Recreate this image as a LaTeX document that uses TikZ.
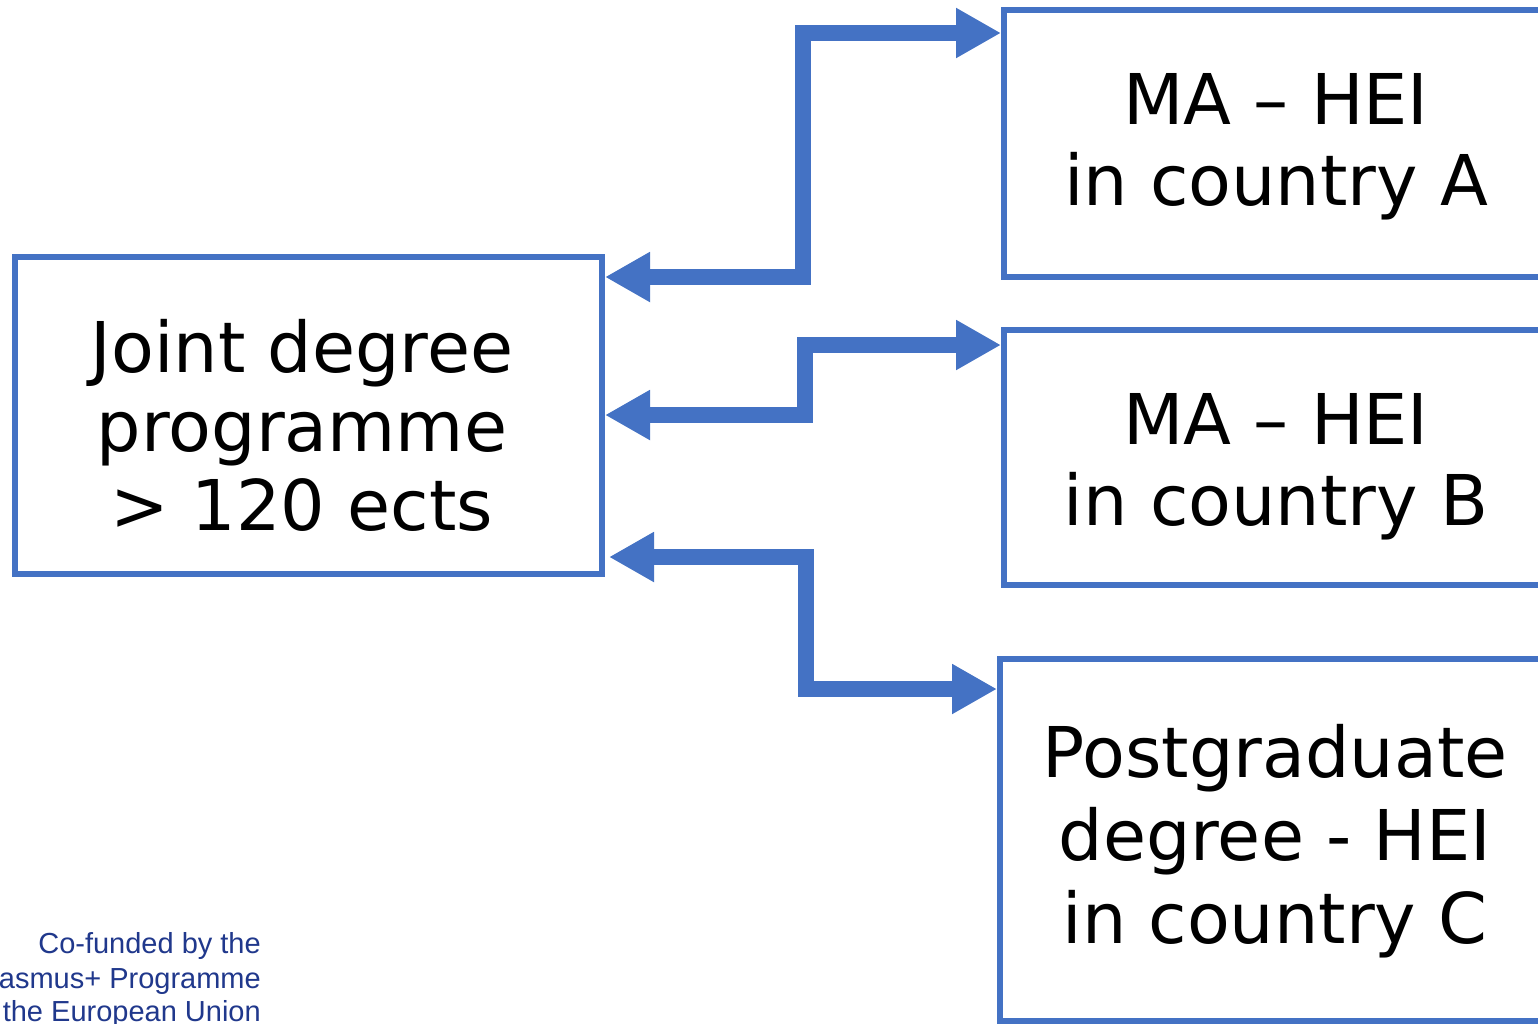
\documentclass[tikz,border=0pt]{standalone}
\usepackage{fontspec}
\setmainfont{DejaVu Sans}
\newfontfamily\logofont{Liberation Sans}
\usetikzlibrary{arrows.meta}
\definecolor{boxblue}{RGB}{68,114,196}
\definecolor{logoblue}{RGB}{32,56,140}
\begin{document}
\begin{tikzpicture}[x=1pt,y=-1pt,
  box/.style={draw=boxblue, line width=6pt, inner sep=0pt, rectangle},
  lbl/.style={anchor=base, inner sep=0pt, font=\fontsize{70}{82}\selectfont},
  link/.style={color=boxblue, line width=16pt, line join=miter,
    {Triangle[length=45pt,width=47pt]}-{Triangle[length=45pt,width=47pt]}},
  logo/.style={anchor=base east, inner sep=0pt, text=logoblue,
    font=\logofont\fontsize{29}{34}\selectfont}]
\fill[white] (0,0) rectangle (1538,1023);
\clip (0,0) rectangle (1538,1023);
% boxes
\node[box, minimum width=587pt, minimum height=317pt] (jdp) at (308.5,415) {};
\node[box, minimum width=556pt, minimum height=266.5pt] (hA) at (1282,143.25) {};
\node[box, minimum width=556pt, minimum height=255.5pt] (hB) at (1282,457.25) {};
\node[box, minimum width=560pt, minimum height=362pt] (hC) at (1280,839.5) {};
% labels
\node[lbl] (jdp1) at (302,372) {Joint degree};
\node[lbl] (jdp2) at (302,451) {programme};
\node[lbl] (jdp3) at (302,530) {> 120 ects};
\node[lbl] (hA1) at (1276,124) {MA – HEI};
\node[lbl] (hA2) at (1276,205) {in country A};
\node[lbl] (hB1) at (1276,444) {MA – HEI};
\node[lbl] (hB2) at (1276,525) {in country B};
\node[lbl] (hC1) at (1275,777) {Postgraduate};
\node[lbl] (hC2) at (1275,860) {degree - HEI};
\node[lbl] (hC3) at (1275,943) {in country C};
% connectors
\coordinate (c3) at ([xshift=4pt]jdp.east);
\draw[link] (jdp.east |- 0,277) -- (803,277) -- (803,33) -- (hA.west |- 0,33);
\draw[link] (jdp.east |- 0,415) -- (805,415) -- (805,345) -- (hB.west |- 0,345);
\draw[link] (c3 |- 0,557) -- (806,557) -- (806,689) -- (hC.west |- 0,689);
% logo text
\node[logo] (lg1) at (261,953) {Co-funded by the};
\node[logo] (lg2) at (261,988) {Erasmus+ Programme};
\node[logo] (lg3) at (261,1021) {of the European Union};
\end{tikzpicture}
\end{document}
